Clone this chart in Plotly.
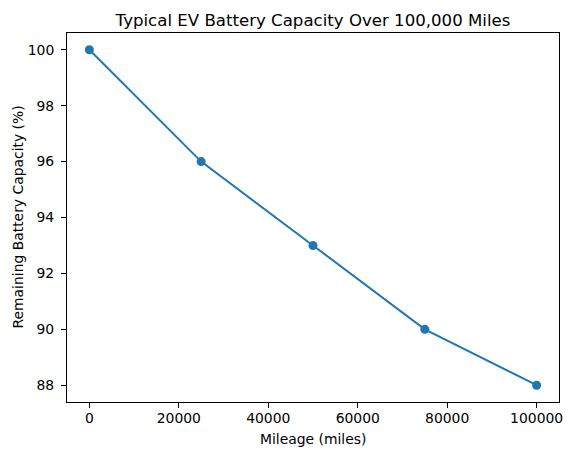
import plotly.graph_objects as go

mileage = [0, 25000, 50000, 75000, 100000]
capacity = [100, 96, 93, 90, 88]
x_ticks = [0, 20000, 40000, 60000, 80000, 100000]
y_ticks = [88, 90, 92, 94, 96, 98, 100]

fig = go.Figure()
fig.add_trace(go.Scatter(
    x=mileage, y=capacity, mode="lines+markers",
    line=dict(color="#1f77b4", width=2),
    marker=dict(color="#1f77b4", size=9),
    showlegend=False,
))

font = dict(family="DejaVu Sans", size=13.9, color="black")
axis_common = dict(
    showgrid=False, zeroline=False, showline=True, linecolor="black", linewidth=1,
    mirror=True, ticks="outside", ticklen=5, tickwidth=1, tickcolor="black",
    tickfont=font,
)
fig.update_layout(
    width=575, height=455,
    margin=dict(l=66.5, r=13, t=32.5, b=53),
    paper_bgcolor="white", plot_bgcolor="white",
    font=font,
    title=dict(text="Typical EV Battery Capacity Over 100,000 Miles",
               font=dict(family="DejaVu Sans", size=16.6, color="black"),
               x=0.5, xanchor="center", xref="paper", y=1, yref="paper",
               yanchor="bottom", pad=dict(b=7)),
    xaxis=dict(range=[-5000, 105000], tickvals=x_ticks,
               ticktext=[str(v) for v in x_ticks], ticklabelstandoff=-2,
               **axis_common),
    yaxis=dict(range=[87.4, 100.6], tickvals=y_ticks,
               ticktext=[str(v) for v in y_ticks], ticklabelstandoff=4,
               **axis_common),
    annotations=[
        dict(text="Mileage (miles)", xref="paper", yref="paper", x=0.5, y=0,
             yshift=-27, xanchor="center", yanchor="top", showarrow=False, font=font),
        dict(text="Remaining Battery Capacity (%)", xref="paper", yref="paper",
             x=0, y=0.5, xshift=-50, xanchor="center", yanchor="middle",
             textangle=-90, showarrow=False, font=font),
    ],
)
fig.write_html("out.html", config={"displayModeBar": False},
               post_script="document.body.style.margin='0';")
